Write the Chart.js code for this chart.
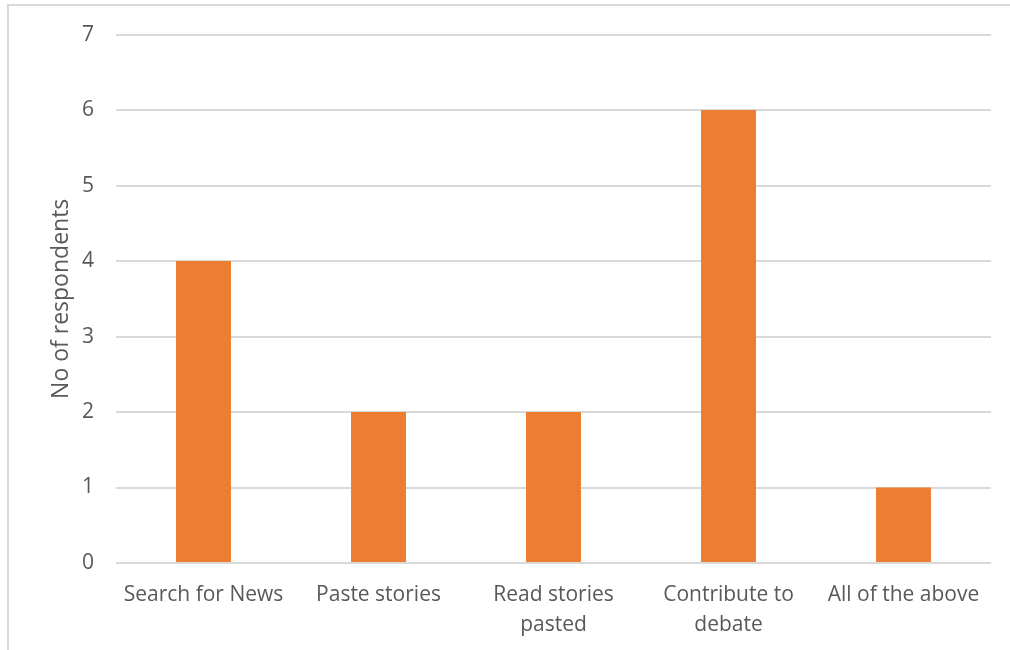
<!DOCTYPE html>
<html>
<head>
<meta charset="utf-8">
<script src="https://cdn.jsdelivr.net/npm/chart.js@4"></script>
<style>
  body { margin: 0; background: #fff; }
  #wrap { position: relative; width: 1010px; height: 650px; overflow: hidden; }
  #frame { position: absolute; left: 7px; top: 4px; width: 1100px; height: 800px;
           border-left: 2px solid #D9D9D9; border-top: 2px solid #D9D9D9; }
  canvas { position: absolute; left: 0; top: 0; }
</style>
</head>
<body>
<div id="wrap">
  <div id="frame"></div>
  <canvas id="chartUsage" width="1010" height="650"></canvas>
</div>
<script>
// activity categories and counts
const categories = [
    "Search for News",
    ["Paste stories"],
    ["Read stories", "pasted"],
    ["Contribute to", "debate"],
    "All of the above"
];
const respondents = [4, 2, 2, 6, 1];
const yTicks = [0, 1, 2, 3, 4, 5, 6, 7];

const textColor = "#595959";
const fontFamily = "'Open Sans', 'Liberation Sans', sans-serif";

let ctx = document.getElementById("chartUsage");
new Chart(ctx, {
    type: "bar",
    data: {
        labels: categories,
        datasets: [{
            label: "No of respondents",
            data: respondents,
            backgroundColor: "#ED7D31",
            barPercentage: 0.314,
            categoryPercentage: 1
        }]
    },
    options: {
        responsive: false,
        animation: false,
        layout: { padding: { left: 44, right: 19, top: 27, bottom: 0 } },
        plugins: {
            legend: { display: false },
            tooltip: { enabled: false }
        },
        scales: {
            x: {
                grid: { display: false },
                border: { display: false },
                ticks: {
                    color: textColor,
                    font: { family: fontFamily, size: 21, lineHeight: 1.43 },
                    padding: 9,
                    maxRotation: 0,
                    autoSkip: false
                },
                afterFit: function(scale) { scale.height = 87; }
            },
            y: {
                min: 0,
                max: 7,
                afterBuildTicks: function(scale) {
                    scale.ticks = yTicks.map(v => ({ value: v }));
                },
                grid: { color: "#D9D9D9", lineWidth: 2, drawTicks: false },
                border: { display: false },
                ticks: {
                    color: textColor,
                    font: { family: fontFamily, size: 21 },
                    padding: 22
                },
                title: {
                    display: true,
                    text: "No of respondents",
                    color: textColor,
                    font: { family: fontFamily, size: 23 }
                },
                afterFit: function(scale) { scale.width = 72; }
            }
        }
    }
});
</script>
</body>
</html>
